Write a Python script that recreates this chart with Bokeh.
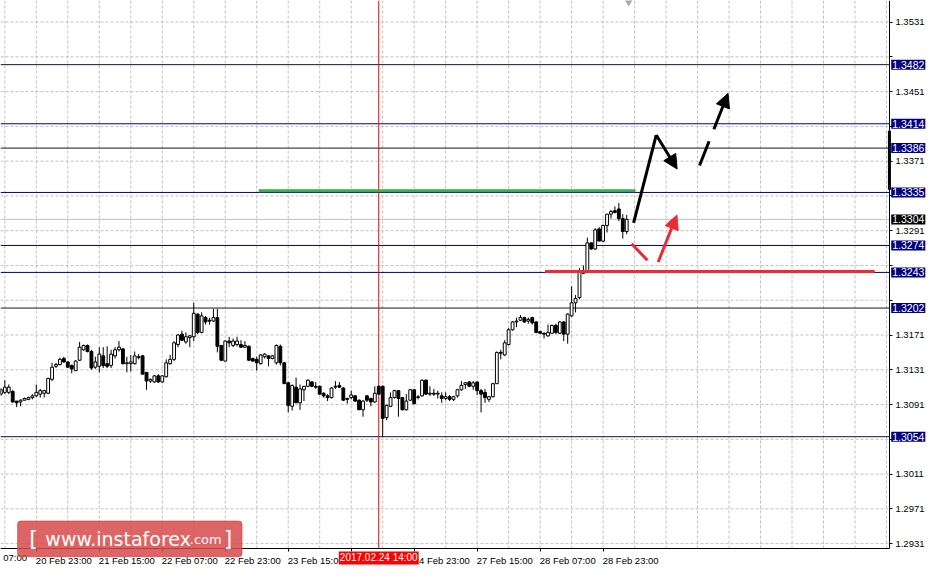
from bokeh.plotting import figure
from bokeh.models import (Range1d, FixedTicker, Label, Arrow, NormalHead, LinearAxis,
                          ColumnDataSource, BoxAnnotation)
from bokeh.embed import file_html
from bokeh.resources import INLINE

# ---------------- data (H1 candles) -------------
opens = [1.3103, 1.3105, 1.3105, 1.3106, 1.3095, 1.3094, 1.3096, 1.3097, 1.3099, 1.3101,
         1.3103, 1.3104, 1.3104, 1.3120, 1.3135, 1.3137, 1.3144, 1.3140, 1.3136, 1.3130,
         1.3142, 1.3154, 1.3159, 1.3152, 1.3134, 1.3135, 1.3147, 1.3138, 1.3136, 1.3147,
         1.3154, 1.3155, 1.3138, 1.3138, 1.3138, 1.3146, 1.3147, 1.3128, 1.3118, 1.3117,
         1.3124, 1.3117, 1.3123, 1.3138, 1.3143, 1.3160, 1.3172, 1.3163, 1.3168, 1.3169,
         1.3195, 1.3174, 1.3191, 1.3188, 1.3187, 1.3191, 1.3159, 1.3141, 1.3164, 1.3159,
         1.3160, 1.3160, 1.3157, 1.3158, 1.3144, 1.3143, 1.3138, 1.3146, 1.3147, 1.3144,
         1.3139, 1.3158, 1.3139, 1.3116, 1.3089, 1.3111, 1.3093, 1.3108, 1.3112, 1.3117,
         1.3112, 1.3112, 1.3104, 1.3101, 1.3099, 1.3111, 1.3113, 1.3110, 1.3098, 1.3099,
         1.3101, 1.3096, 1.3085, 1.3101, 1.3098, 1.3094, 1.3112, 1.3112, 1.3076, 1.3089,
         1.3099, 1.3107, 1.3099, 1.3085, 1.3096, 1.3108, 1.3099, 1.3101, 1.3119, 1.3103,
         1.3104, 1.3103, 1.3101, 1.3098, 1.3100, 1.3097, 1.3101, 1.3108, 1.3114, 1.3117,
         1.3112, 1.3117, 1.3107, 1.3105, 1.3097, 1.3100, 1.3115, 1.3151, 1.3148, 1.3160,
         1.3177, 1.3186, 1.3188, 1.3191, 1.3187, 1.3191, 1.3186, 1.3175, 1.3173, 1.3170,
         1.3173, 1.3182, 1.3173, 1.3186, 1.3172, 1.3193, 1.3208, 1.3214, 1.3242, 1.3245,
         1.3277, 1.3270, 1.3293, 1.3279, 1.3297, 1.3310, 1.3314, 1.3316, 1.3305, 1.3290]
highs = [1.3110, 1.3119, 1.3114, 1.3108, 1.3095, 1.3097, 1.3099, 1.3100, 1.3103, 1.3114,
         1.3109, 1.3108, 1.3122, 1.3139, 1.3139, 1.3145, 1.3146, 1.3141, 1.3137, 1.3142,
         1.3163, 1.3160, 1.3160, 1.3154, 1.3146, 1.3157, 1.3157, 1.3158, 1.3154, 1.3157,
         1.3164, 1.3156, 1.3146, 1.3148, 1.3152, 1.3149, 1.3148, 1.3128, 1.3121, 1.3125,
         1.3126, 1.3125, 1.3143, 1.3148, 1.3164, 1.3172, 1.3176, 1.3174, 1.3171, 1.3208,
         1.3196, 1.3197, 1.3193, 1.3191, 1.3201, 1.3201, 1.3159, 1.3165, 1.3169, 1.3167,
         1.3169, 1.3165, 1.3164, 1.3159, 1.3145, 1.3146, 1.3149, 1.3150, 1.3148, 1.3148,
         1.3160, 1.3160, 1.3140, 1.3117, 1.3114, 1.3122, 1.3114, 1.3112, 1.3120, 1.3118,
         1.3117, 1.3113, 1.3105, 1.3103, 1.3111, 1.3118, 1.3117, 1.3111, 1.3099, 1.3107,
         1.3102, 1.3097, 1.3096, 1.3102, 1.3099, 1.3112, 1.3113, 1.3113, 1.3091, 1.3105,
         1.3108, 1.3107, 1.3099, 1.3103, 1.3109, 1.3108, 1.3102, 1.3120, 1.3120, 1.3112,
         1.3109, 1.3107, 1.3105, 1.3105, 1.3102, 1.3101, 1.3109, 1.3118, 1.3117, 1.3118,
         1.3118, 1.3117, 1.3109, 1.3109, 1.3101, 1.3116, 1.3152, 1.3154, 1.3165, 1.3179,
         1.3187, 1.3191, 1.3194, 1.3192, 1.3191, 1.3192, 1.3187, 1.3176, 1.3174, 1.3183,
         1.3183, 1.3184, 1.3187, 1.3187, 1.3196, 1.3227, 1.3217, 1.3248, 1.3251, 1.3283,
         1.3277, 1.3294, 1.3295, 1.3298, 1.3310, 1.3315, 1.3319, 1.3323, 1.3310, 1.3309]
lows = [1.3101, 1.3103, 1.3103, 1.3093, 1.3088, 1.3089, 1.3096, 1.3096, 1.3097, 1.3100,
        1.3099, 1.3099, 1.3103, 1.3118, 1.3133, 1.3136, 1.3139, 1.3133, 1.3127, 1.3130,
        1.3141, 1.3153, 1.3151, 1.3131, 1.3132, 1.3128, 1.3133, 1.3133, 1.3133, 1.3144,
        1.3152, 1.3137, 1.3128, 1.3129, 1.3137, 1.3143, 1.3125, 1.3108, 1.3116, 1.3116,
        1.3116, 1.3116, 1.3122, 1.3137, 1.3141, 1.3157, 1.3164, 1.3161, 1.3157, 1.3164,
        1.3172, 1.3173, 1.3183, 1.3183, 1.3186, 1.3151, 1.3141, 1.3141, 1.3157, 1.3157,
        1.3158, 1.3156, 1.3156, 1.3141, 1.3140, 1.3130, 1.3137, 1.3144, 1.3135, 1.3143,
        1.3137, 1.3136, 1.3115, 1.3082, 1.3084, 1.3093, 1.3085, 1.3095, 1.3111, 1.3111,
        1.3109, 1.3102, 1.3099, 1.3095, 1.3098, 1.3109, 1.3110, 1.3095, 1.3092, 1.3097,
        1.3094, 1.3085, 1.3077, 1.3094, 1.3089, 1.3093, 1.3102, 1.3054, 1.3073, 1.3088,
        1.3098, 1.3077, 1.3084, 1.3084, 1.3095, 1.3091, 1.3097, 1.3100, 1.3102, 1.3101,
        1.3101, 1.3098, 1.3093, 1.3096, 1.3095, 1.3095, 1.3099, 1.3107, 1.3109, 1.3111,
        1.3108, 1.3102, 1.3082, 1.3093, 1.3094, 1.3099, 1.3115, 1.3143, 1.3147, 1.3159,
        1.3176, 1.3180, 1.3187, 1.3185, 1.3184, 1.3183, 1.3173, 1.3172, 1.3167, 1.3169,
        1.3173, 1.3172, 1.3172, 1.3164, 1.3161, 1.3192, 1.3197, 1.3212, 1.3241, 1.3243,
        1.3269, 1.3269, 1.3279, 1.3278, 1.3289, 1.3305, 1.3311, 1.3302, 1.3282, 1.3287]
closes = [1.3108, 1.3111, 1.3111, 1.3094, 1.3093, 1.3096, 1.3098, 1.3099, 1.3101, 1.3105,
          1.3107, 1.3107, 1.3121, 1.3134, 1.3137, 1.3143, 1.3140, 1.3134, 1.3132, 1.3141,
          1.3157, 1.3159, 1.3152, 1.3133, 1.3140, 1.3149, 1.3136, 1.3135, 1.3149, 1.3154,
          1.3157, 1.3138, 1.3139, 1.3140, 1.3147, 1.3145, 1.3126, 1.3118, 1.3120, 1.3124,
          1.3117, 1.3124, 1.3139, 1.3143, 1.3162, 1.3171, 1.3165, 1.3169, 1.3170, 1.3196,
          1.3174, 1.3193, 1.3186, 1.3187, 1.3191, 1.3158, 1.3142, 1.3164, 1.3162, 1.3164,
          1.3164, 1.3157, 1.3159, 1.3142, 1.3141, 1.3139, 1.3148, 1.3149, 1.3144, 1.3147,
          1.3159, 1.3139, 1.3115, 1.3090, 1.3113, 1.3093, 1.3109, 1.3112, 1.3119, 1.3112,
          1.3111, 1.3103, 1.3101, 1.3099, 1.3110, 1.3112, 1.3111, 1.3096, 1.3097, 1.3102,
          1.3095, 1.3085, 1.3095, 1.3096, 1.3094, 1.3104, 1.3103, 1.3075, 1.3090, 1.3099,
          1.3107, 1.3098, 1.3085, 1.3095, 1.3108, 1.3092, 1.3100, 1.3119, 1.3103, 1.3104,
          1.3103, 1.3104, 1.3098, 1.3100, 1.3097, 1.3100, 1.3108, 1.3113, 1.3116, 1.3112,
          1.3116, 1.3107, 1.3103, 1.3099, 1.3100, 1.3115, 1.3151, 1.3150, 1.3162, 1.3177,
          1.3186, 1.3187, 1.3191, 1.3186, 1.3189, 1.3185, 1.3174, 1.3173, 1.3172, 1.3174,
          1.3182, 1.3174, 1.3186, 1.3172, 1.3195, 1.3208, 1.3213, 1.3243, 1.3245, 1.3277,
          1.3270, 1.3292, 1.3279, 1.3297, 1.3310, 1.3313, 1.3312, 1.3305, 1.3290, 1.3304]

# price scale ticks and labels (some hidden under the level tags, as in the picture)
y_ticks = [1.2931, 1.2971, 1.3011, 1.3051, 1.3091, 1.3131, 1.3171, 1.3211,
           1.3251, 1.3291, 1.3331, 1.3371, 1.3411, 1.3451, 1.3491, 1.3531]
y_tick_labels = ["1.2931", "1.2971", "1.3011", "", "1.3091", "1.3131", "1.3171", "",
                 "", "1.3291", "", "1.3371", "", "1.3451", "", "1.3531"]

# time scale: bar index of each labelled hour, and its label
x_ticks = [9, 25, 41, 57, 73, 89, 105, 121, 137, 153]
x_tick_labels = ["20 Feb 23:00", "21 Feb 15:00", "22 Feb 07:00", "22 Feb 23:00",
                 "23 Feb 15:00", "", "24 Feb 23:00", "27 Feb 15:00",
                 "28 Feb 07:00", "28 Feb 23:00"]

# horizontal levels drawn on the chart
levels = [1.3482, 1.3414, 1.3386, 1.3335, 1.3274, 1.3243, 1.3202, 1.3054]
level_colors = ["#14143c", "#000080", "#14143c", "#000080",
                "#000080", "#000080", "#14143c", "#14143c"]
bid_price = 1.3304
cursor_bar = 96
cursor_label = "2017.02.24 14:00"

# hand-drawn forecast marks (bar index, price)
green_x, green_y = [65.5, 161.25], [1.3337, 1.3337]
redlevel_x, redlevel_y = [138.25, 222.0], [1.3244, 1.3244]
black_up_x, black_up_y = [160.75, 166.5], [1.3300, 1.3401]
black_down = [166.5, 1.3401, 171.8, 1.3362]
black_dash = [177.5, 1.3366, 184.75, 1.3449]
red_short_x, red_short_y = [160.25, 164.25], [1.3276, 1.3257]
red_arrow = [167.0, 1.3255, 171.75, 1.3309]

# ---------------- layout constants (chart window) ----------------
X0, X1 = -0.1, 225.75          # bar span of the chart window
Y0, Y1 = 1.29254, 1.35558      # price span of the chart window
FONT = "Liberation Sans"

p = figure(width=927, height=566, x_range=Range1d(X0, 235.42),
           y_range=Range1d(1.29047, Y1), x_axis_location=None, y_axis_location=None,
           output_backend="svg", toolbar_location=None,
           min_border_left=0, min_border_top=0, min_border_right=0, min_border_bottom=0)
p.outline_line_color = None
p.background_fill_color = "white"
p.border_fill_color = "white"
p.xgrid.visible = False
p.ygrid.visible = False

# dashed grid, restricted to the chart window
gx = list(range(1, 226, 8))
p.segment(x0=gx, y0=[Y0] * len(gx), x1=gx, y1=[Y1] * len(gx),
          line_color="#c0c0c0", line_dash="3 2", line_width=1)
p.segment(x0=[X0] * len(y_ticks), y0=y_ticks, x1=[X1] * len(y_ticks), y1=y_ticks,
          line_color="#c0c0c0", line_dash="3 2", line_width=1)

# price axis (right edge of the chart window)
yax = LinearAxis(fixed_location=X1, bounds=(Y0, Y1), ticker=FixedTicker(ticks=y_ticks))
yax.major_label_overrides = dict(zip(y_ticks, y_tick_labels))
p.add_layout(yax, "right")

# time axis: one axis for the tick marks, one for the left-aligned labels
xax = LinearAxis(fixed_location=Y0, bounds=(X0, X1), ticker=FixedTicker(ticks=x_ticks))
xax.major_label_text_alpha = 0
p.add_layout(xax, "below")
label_ticks = [t + 7.0 for t in x_ticks]
xlab = LinearAxis(fixed_location=Y0, bounds=(X0, X1), ticker=FixedTicker(ticks=label_ticks))
xlab.major_label_overrides = dict(zip(label_ticks, x_tick_labels))
xlab.axis_line_color = None
xlab.major_tick_line_color = None
p.add_layout(xlab, "below")

for ax in (yax, xax, xlab):
    if ax is not xlab:
        ax.axis_line_color = "black"
        ax.major_tick_line_color = "black"
    ax.major_tick_out = 3
    ax.major_tick_in = 0
    ax.minor_tick_line_color = None
    ax.major_label_text_font = FONT
    ax.major_label_text_font_size = "9.5px"
    ax.major_label_text_color = "black"
    ax.major_label_standoff = 3

# level lines, bid line, cursor line
p.segment(x0=[X0] * len(levels), y0=levels, x1=[X1] * len(levels), y1=levels,
          line_color=level_colors, line_width=1)
p.segment(x0=[X0], y0=[bid_price], x1=[X1], y1=[bid_price], line_color="#c0c0c0", line_width=1)
p.segment(x0=[cursor_bar], y0=[Y0], x1=[cursor_bar], y1=[Y1], line_color="#ff0000", line_width=1)

# candles
tops = [max(o, c) for o, c in zip(opens, closes)]
bots = [min(o, c) for o, c in zip(opens, closes)]
fills = ["white" if c >= o else "black" for o, c in zip(opens, closes)]
src = ColumnDataSource(dict(x=list(range(len(opens))), top=tops, bottom=bots,
                            high=highs, low=lows, fill=fills))
p.segment(x0="x", y0="high", x1="x", y1="low", source=src, line_color="black", line_width=1)
p.vbar(x="x", width=0.72, top="top", bottom="bottom", fill_color="fill",
       line_color="black", line_width=1, source=src)

# forecast drawings
RED = "#ee2a33"
p.line(green_x, green_y, line_color="#3aad4c", line_width=3)
p.line(redlevel_x, redlevel_y, line_color=RED, line_width=3)
p.line(black_up_x, black_up_y, line_color="black", line_width=3)
p.line(red_short_x, red_short_y, line_color=RED, line_width=3)
p.add_layout(Arrow(end=NormalHead(size=14, fill_color="black", line_color="black"),
                   x_start=black_down[0], y_start=black_down[1],
                   x_end=black_down[2], y_end=black_down[3],
                   line_color="black", line_width=3))
p.add_layout(Arrow(end=NormalHead(size=14, fill_color="black", line_color="black"),
                   x_start=black_dash[0], y_start=black_dash[1],
                   x_end=black_dash[2], y_end=black_dash[3],
                   line_color="black", line_width=3, line_dash="26 13"))
p.add_layout(Arrow(end=NormalHead(size=14, fill_color=RED, line_color=RED),
                   x_start=red_arrow[0], y_start=red_arrow[1],
                   x_end=red_arrow[2], y_end=red_arrow[3],
                   line_color=RED, line_width=3))

# chart-shift marker at the top, bar on the price scale
p.scatter([159.5], [Y1], marker="inverted_triangle", size=9,
          fill_color="#a8a8a8", line_color="#a8a8a8")
p.segment(x0=[X1], y0=[1.3338], x1=[X1], y1=[1.3406], line_color="black", line_width=3)

# level tags on the price scale
for lv in levels:
    p.add_layout(Label(x=X1 + 0.45, y=lv, text=f"{lv:.4f}", text_font=FONT,
                       text_font_size="10.5px", text_color="white",
                       text_baseline="middle", text_align="left",
                       background_fill_color="#000080", padding=1))
p.add_layout(Label(x=X1 + 0.45, y=bid_price, text=f"{bid_price:.4f}", text_font=FONT,
                   text_font_size="10.5px", text_color="white",
                   text_baseline="middle", text_align="left",
                   background_fill_color="black", padding=1))

# cursor time tag and the clipped first time label
p.add_layout(Label(x=cursor_bar, y=1.29145, text=cursor_label, text_font=FONT,
                   text_font_size="10px", text_color="white", text_align="center",
                   text_baseline="middle", background_fill_color="#ff0000", padding=1))
p.add_layout(Label(x=0.6, y=1.29145, text="07:00", text_font=FONT,
                   text_font_size="9.5px", text_color="black", text_align="left",
                   text_baseline="middle"))

# watermark logo
p.add_layout(BoxAnnotation(left=4.25, right=61.25, bottom=1.2916, top=1.2957,
                           fill_color="#d84a4a", fill_alpha=0.85, line_color="#c04040",
                           line_alpha=0.6, border_radius=3))
p.add_layout(Label(x=7.2, y=1.29365, text="[", text_font="DejaVu Sans",
                   text_font_size="22px", text_color="white", text_baseline="middle"))
p.add_layout(Label(x=11.3, y=1.29365, text="www.instaforex", text_font="DejaVu Sans",
                   text_font_size="19px", text_color="white", text_baseline="middle"))
p.add_layout(Label(x=48.0, y=1.29355, text=".com", text_font="DejaVu Sans",
                   text_font_size="13px", text_color="white", text_baseline="middle"))
p.add_layout(Label(x=56.6, y=1.29365, text="]", text_font="DejaVu Sans",
                   text_font_size="22px", text_color="white", text_baseline="middle"))

open("out.html", "w").write(file_html(p, INLINE))
